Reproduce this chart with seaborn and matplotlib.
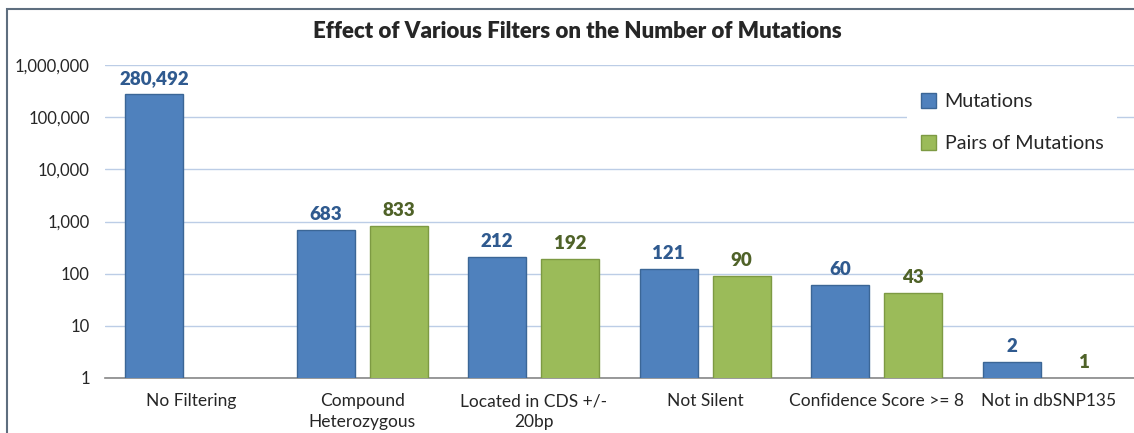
import numpy as np
import pandas as pd
import seaborn as sns
import matplotlib.pyplot as plt
from matplotlib.patches import Rectangle
from matplotlib.ticker import FixedLocator, FuncFormatter

# ==========================================
# 1. DATA
# ==========================================
categories = ['No Filtering', 'Compound\nHeterozygous', 'Located in CDS +/-\n20bp',
              'Not Silent', 'Confidence Score >= 8', 'Not in dbSNP135']
mutations = [280492, 683, 212, 121, 60, 2]
pairs = [np.nan, 833, 192, 90, 43, 1]
series = ['Mutations', 'Pairs of Mutations']

df = pd.DataFrame({'Filter': categories, series[0]: mutations, series[1]: pairs})
df_long = df.melt(id_vars='Filter', var_name='Series', value_name='Count').dropna()

# ==========================================
# 2. STYLE
# ==========================================
sns.set_style('white')
plt.rcParams['font.family'] = ['Lato', 'DejaVu Sans']

blue, green = '#4F81BD', '#9BBB59'
blue_edge, green_edge = '#3B6696', '#7D9A43'

fig = plt.figure(figsize=(11.34, 4.33), dpi=100)
ax = fig.add_axes([105 / 1134, 55 / 433, 1029 / 1134, 313 / 433])

sns.barplot(data=df_long, x='Filter', y='Count', hue='Series', order=categories,
            hue_order=series, palette=[blue, green], saturation=1, width=0.85, gap=0.2,
            ax=ax, zorder=3)

ax.set_yscale('log')
ax.set_ylim(1, 1e6)
ax.set_xlim(-0.5, len(categories) - 0.5)

# bar edges + value labels
label_colors = ['#2F5A8F', '#4F6228']
for cont, ec, lc in zip(ax.containers, [blue_edge, green_edge], label_colors):
    for p in cont:
        p.set_edgecolor(ec)
        p.set_linewidth(1.0 if p.get_height() > 1 else 0)
    ax.bar_label(cont, labels=[f'{v:,.0f}' for v in cont.datavalues],
                 padding=5, color=lc, fontsize=13.5, fontweight='heavy')

# y axis
ax.yaxis.set_major_locator(FixedLocator([1, 10, 100, 1e3, 1e4, 1e5, 1e6]))
ax.yaxis.set_minor_locator(FixedLocator([]))
ax.yaxis.set_major_formatter(FuncFormatter(lambda v, _: f'{v:,.0f}'))
ax.tick_params(axis='y', length=0, labelsize=12, pad=11)
ax.grid(axis='y', color='#BCCDE6', linewidth=1.0, zorder=0)

# x axis: labels centred, tick marks at category boundaries
ax.set_xticks(range(len(categories)))
ax.set_xticklabels(categories, fontsize=12.5, linespacing=1.35)
ax.tick_params(axis='x', which='major', length=0, pad=11)
ax.set_xticks(np.arange(-0.5, len(categories) + 0.5, 1), minor=True)
ax.tick_params(axis='x', which='minor', length=6, color='#878787', width=1)

ax.set_xlabel('')
ax.set_ylabel('')
for s in ['top', 'right', 'left']:
    ax.spines[s].set_visible(False)
ax.spines['bottom'].set_color('#878787')
ax.spines['bottom'].set_linewidth(1.2)

# legend
leg = ax.legend(loc='upper left', bbox_to_anchor=(0.77, 0.985), fontsize=14.2,
                frameon=True, handlelength=0.75, handleheight=0.75,
                labelspacing=1.25, handletextpad=0.45, borderpad=0.7)
leg.get_frame().set_facecolor('white')
leg.get_frame().set_edgecolor('none')
leg.get_frame().set_alpha(1)
for h, ec in zip(leg.legend_handles, [blue_edge, green_edge]):
    h.set_edgecolor(ec)
    h.set_linewidth(1.0)

# title
fig.text(577 / 1134, 1 - 31 / 433, 'Effect of Various Filters on the Number of Mutations',
         ha='center', va='center', fontsize=16, fontweight='heavy')

# outer chart border
fig.patches.append(Rectangle((7 / 1134, -0.1), 1.2, 1 - 9 / 433 + 0.1,
                             transform=fig.transFigure, fill=False,
                             edgecolor='#5E6E7F', linewidth=1.5))

fig.savefig('out.png', dpi=100)
